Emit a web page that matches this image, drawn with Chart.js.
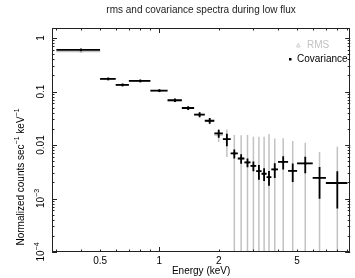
<!DOCTYPE html>
<html><head><meta charset="utf-8">
<script src="https://cdn.jsdelivr.net/npm/chart.js@4.4.1/dist/chart.umd.min.js"></script>
<style>html,body{margin:0;padding:0;background:#fff;overflow:hidden}canvas{display:block}</style>
</head><body>
<canvas id="c" width="355" height="278" style="width:355px;height:278px"></canvas>
<script>
// ---------------- data ----------------
const chartTitle = 'rms and covariance spectra during low flux';
const xAxisTitle = 'Energy (keV)';
const yAxisTitle = [['Normalized counts sec', ''], ['', '\u22121'], [' keV', ''], ['', '\u22121']];
const legendLabels = ['RMS', 'Covariance'];

const energyLo = [0.3, 0.5, 0.6, 0.7, 0.9, 1.1, 1.3, 1.5, 1.7, 1.9, 2.1, 2.3, 2.5, 2.7, 2.9, 3.1, 3.3, 3.5, 3.7, 4.0, 4.5, 5.0, 6.0, 7.0];
const energyHi = [0.5, 0.6, 0.7, 0.9, 1.1, 1.3, 1.5, 1.7, 1.9, 2.1, 2.3, 2.5, 2.7, 2.9, 3.1, 3.3, 3.5, 3.7, 4.0, 4.5, 5.0, 6.0, 7.0, 9.0];
const energy   = [0.4, 0.55, 0.65, 0.8, 1.0, 1.2, 1.4, 1.6, 1.8, 2.0, 2.2, 2.4, 2.6, 2.8, 3.0, 3.2, 3.4, 3.6, 3.85, 4.25, 4.75, 5.5, 6.5, 8.0];

const covariance    = [0.60, 0.172, 0.133, 0.158, 0.104, 0.0687, 0.0492, 0.0369, 0.0284, 0.0165, 0.0129, 0.00695, 0.0056, 0.00472, 0.00407, 0.00325, 0.00290, 0.00250, 0.00349, 0.00484, 0.00328, 0.00452, 0.00243, 0.00195];
const covarianceErr = [0.035, 0.010, 0.008, 0.009, 0.006, 0.005, 0.004, 0.004, 0.0035, 0.0028, 0.0034, 0.00133, 0.00113, 0.00089, 0.00085, 0.0010, 0.00077, 0.00077, 0.00108, 0.00134, 0.00124, 0.00154, 0.00144, 0.0013];

const rms    = [0.56, 0.170, 0.131, 0.156, 0.103, 0.068, 0.049, 0.037, 0.028, 0.0154, 0.0128, 0.00695, 0.0056, 0.00472, 0.00407, 0.00325, 0.00290, 0.00250, 0.00349, 0.00484, 0.00328, 0.00452, 0.00243, 0.00195];
const rmsErr = [0.03, 0.010, 0.008, 0.009, 0.006, 0.005, 0.004, 0.004, 0.0035, 0.0040, 0.0068, 0.0084, 0.0097, 0.0106, 0.0102, 0.0110, 0.0113, 0.0135, 0.0098, 0.0085, 0.0086, 0.0065, 0.0050, 0.0073];

const xTickValues = [0.5, 1, 2, 5];
const xTickLabels = ['0.5', '1', '2', '5'];
const yTickValues = [1, 0.1, 0.01, 0.001, 0.0001];
const yTickLabels = [['1', ''], ['0.1', ''], ['0.01', ''], ['10', '\u22123'], ['10', '\u22124']];
const xRange = [0.285, 9.3];
const yRange = [1e-4, 1.54];

// ---------------- drawing ----------------
const FONT = "'Liberation Sans', Arial, Helvetica, sans-serif";
const GRAY = '#c2c2c2';
const series = [
  { values: rms, errors: rmsErr, color: GRAY, width: 1.5 },
  { values: covariance, errors: covarianceErr, color: '#000', width: 1.8 }
];

function drawRich(ctx, parts, cx, cy, size, color) {
  const supSize = Math.round(size * 0.7);
  const widths = parts.map(p => {
    ctx.font = size + 'px ' + FONT; let w = ctx.measureText(p[0]).width;
    ctx.font = supSize + 'px ' + FONT; w += ctx.measureText(p[1]).width;
    return w;
  });
  const total = widths.reduce((a, b) => a + b, 0);
  let xx = cx - total / 2;
  ctx.fillStyle = color; ctx.textBaseline = 'middle'; ctx.textAlign = 'left';
  parts.forEach(p => {
    if (p[0]) { ctx.font = size + 'px ' + FONT; ctx.fillText(p[0], xx, cy); xx += ctx.measureText(p[0]).width; }
    if (p[1]) { ctx.font = supSize + 'px ' + FONT; ctx.fillText(p[1], xx, cy - size * 0.38); xx += ctx.measureText(p[1]).width; }
  });
}

const spectraPlugin = {
  id: 'spectra',
  beforeDatasetDraw(chart, args) {
    const s = series[args.index];
    const { ctx, chartArea: a, scales: { x, y } } = chart;
    ctx.save();
    ctx.beginPath(); ctx.rect(a.left, a.top, a.right - a.left, a.bottom - a.top); ctx.clip();
    ctx.strokeStyle = s.color; ctx.lineWidth = s.width; ctx.lineCap = 'butt';
    ctx.beginPath();
    for (let i = 0; i < energy.length; i++) {
      const v = s.values[i], e = s.errors[i];
      const px = x.getPixelForValue(energy[i]);
      const py = y.getPixelForValue(v);
      ctx.moveTo(x.getPixelForValue(energyLo[i]), py);
      ctx.lineTo(x.getPixelForValue(energyHi[i]), py);
      ctx.moveTo(px, y.getPixelForValue(Math.max(v - e, 1e-7)));
      ctx.lineTo(px, y.getPixelForValue(v + e));
    }
    ctx.stroke();
    ctx.restore();
  },
  afterDraw(chart) {
    const { ctx, chartArea: a, scales: { x, y } } = chart;
    ctx.save();
    ctx.strokeStyle = '#222'; ctx.lineWidth = 1;
    ctx.strokeRect(Math.round(a.left) + 0.5, Math.round(a.top) + 0.5, Math.round(a.right - a.left) - 1, Math.round(a.bottom - a.top) - 1);
    ctx.beginPath();
    for (let d = -2; d <= 1; d++) for (let k = 1; k <= 9; k++) {
      const v = k * Math.pow(10, d);
      if (v <= xRange[0] || v >= xRange[1]) continue;
      const p = Math.round(x.getPixelForValue(v)) + 0.5, L = k === 1 ? 5 : 2.5;
      ctx.moveTo(p, a.bottom); ctx.lineTo(p, a.bottom - L);
      ctx.moveTo(p, a.top); ctx.lineTo(p, a.top + L);
    }
    for (let d = -5; d <= 1; d++) for (let k = 1; k <= 9; k++) {
      const v = k * Math.pow(10, d);
      if (v <= yRange[0] * 0.999 || v >= yRange[1]) continue;
      const p = Math.round(y.getPixelForValue(v)) + 0.5, L = k === 1 ? 5 : 2.5;
      ctx.moveTo(a.left, p); ctx.lineTo(a.left + L, p);
      ctx.moveTo(a.right, p); ctx.lineTo(a.right - L, p);
    }
    ctx.stroke();
    yTickValues.forEach((v, i) => {
      const p = y.getPixelForValue(v);
      ctx.save(); ctx.translate(41, p); ctx.rotate(-Math.PI / 2);
      drawRich(ctx, [yTickLabels[i]], 0, 0, 10, '#000');
      ctx.restore();
    });
    ctx.save(); ctx.translate(21, 177); ctx.rotate(-Math.PI / 2);
    drawRich(ctx, yAxisTitle, 0, 0, 10, '#000');
    ctx.restore();
    ctx.font = '10px ' + FONT; ctx.fillStyle = '#000'; ctx.textAlign = 'center'; ctx.textBaseline = 'middle';
    ctx.fillText(xAxisTitle, (a.left + a.right) / 2, 271);
    ctx.fillStyle = '#222';
    ctx.fillText(chartTitle, (a.left + a.right) / 2, 10);
    ctx.textAlign = 'left';
    ctx.fillStyle = GRAY; ctx.fillText(legendLabels[0], 307, 45.5);
    ctx.strokeStyle = GRAY; ctx.lineWidth = 0.8;
    ctx.beginPath(); ctx.moveTo(296.5, 47); ctx.lineTo(300, 47); ctx.lineTo(298.25, 43.5); ctx.closePath(); ctx.stroke();
    ctx.fillStyle = '#000'; ctx.fillText(legendLabels[1], 297, 59.5);
    ctx.fillRect(289, 58, 2.5, 2.5);
    ctx.restore();
  }
};

new Chart(document.getElementById('c'), {
  type: 'scatter',
  data: {
    datasets: [
      { label: legendLabels[0], order: 1, data: energy.map((e, i) => ({ x: e, y: rms[i] })),
        pointStyle: 'triangle', pointRadius: 1.5, borderColor: GRAY, backgroundColor: 'rgba(0,0,0,0)', borderWidth: 0.8 },
      { label: legendLabels[1], order: 0, data: energy.map((e, i) => ({ x: e, y: covariance[i] })),
        pointStyle: 'rect', pointRadius: 1.3, borderColor: '#000', backgroundColor: '#000', borderWidth: 0 }
    ]
  },
  options: {
    responsive: false, animation: false, devicePixelRatio: 1,
    layout: { padding: { top: 28, right: 2, left: 0, bottom: 0 } },
    plugins: { legend: { display: false }, title: { display: false }, tooltip: { enabled: false } },
    scales: {
      x: {
        type: 'logarithmic', min: xRange[0], max: xRange[1],
        grid: { display: false, drawTicks: false }, border: { display: false },
        afterBuildTicks: s => { s.ticks = xTickValues.map(v => ({ value: v })); },
        afterFit: s => { s.height = 26; },
        ticks: { autoSkip: false, maxRotation: 0, padding: 3, color: '#000', font: { family: FONT, size: 10 },
          callback: (v) => { const i = xTickValues.indexOf(v); return i >= 0 ? xTickLabels[i] : ''; } }
      },
      y: {
        type: 'logarithmic', min: yRange[0], max: yRange[1],
        grid: { display: false, drawTicks: false }, border: { display: false },
        afterFit: s => { s.width = 52; },
        ticks: { display: false }
      }
    }
  },
  plugins: [spectraPlugin]
});
</script>
</body></html>
